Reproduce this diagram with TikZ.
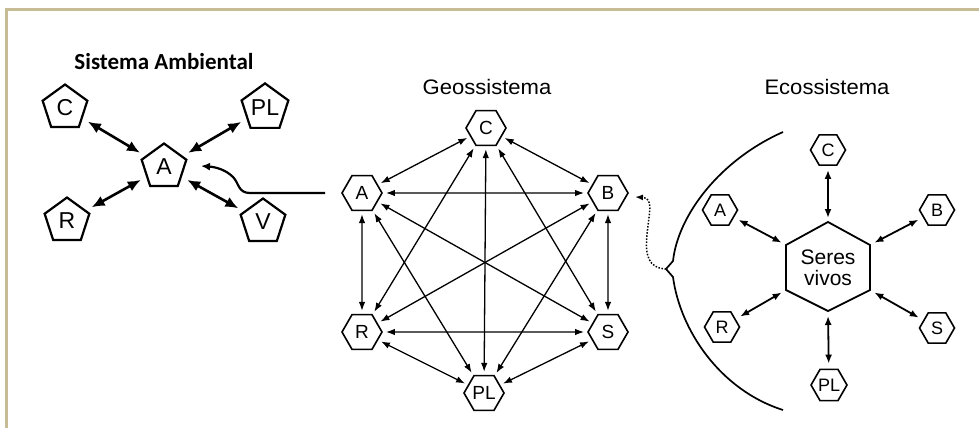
\documentclass[tikz,border=0pt]{standalone}
\usepackage{fontspec}
\setmainfont{Liberation Sans}
\newfontfamily\calib{Carlito}
\usetikzlibrary{shapes.geometric,arrows.meta}
\definecolor{framecol}{HTML}{C8BC96}
\begin{document}
\begin{tikzpicture}[x=1pt,y=-1pt,
  pent/.style={regular polygon,regular polygon sides=5,draw,line width=2.2pt,minimum size=47pt,inner sep=0pt,font=\fontsize{23}{23}\selectfont},
  hexm/.style={regular polygon,regular polygon sides=6,draw,line width=1.6pt,minimum size=40pt,inner sep=0pt,font=\fontsize{19}{19}\selectfont},
  hexr/.style={regular polygon,regular polygon sides=6,draw,line width=1.6pt,minimum size=35pt,inner sep=0pt,font=\fontsize{18}{18}\selectfont},
  bigarr/.style={{Latex[length=13pt,width=11pt]}-{Latex[length=13pt,width=11pt]},line width=2.6pt,shorten <=6pt,shorten >=6pt},
  midarr/.style={{Latex[length=9pt,width=6.5pt]}-{Latex[length=9pt,width=6.5pt]},line width=1.3pt,shorten <=3pt,shorten >=3pt},
  rarr/.style={{Latex[length=9pt,width=7pt]}-{Latex[length=9pt,width=7pt]},line width=1.8pt},
  ttl/.style={font=\fontsize{21}{21}\selectfont},
]
\useasboundingbox (0,0) rectangle (979,428);
\fill[white] (0,0) rectangle (979,428);
% frame
\draw[framecol,line width=2.2pt] (6.5,428) -- (6.5,9.5) -- (979,9.5);

% ---------- Sistema Ambiental ----------
\node[font=\calib\bfseries\fontsize{23}{23}\selectfont] (t1) at (164,62) {Sistema Ambiental};
\node[pent] (sC) at (65,108) {C};
\node[pent] (sPL) at (265,108) {PL};
\node[pent] (sA) at (164,167) {A};
\node[pent] (sR) at (67,221) {R};
\node[pent] (sV) at (263,222) {V};
\draw[bigarr] (sC) -- (sA);
\draw[bigarr] (sPL) -- (sA);
\draw[bigarr] (sR) -- (sA);
\draw[bigarr] (sA) -- (sV);

% ---------- Geossistema ----------
\node[ttl] (t2) at (487,87) {\scalebox{1.05}[1]{Geossistema}};
\node[hexm] (gC) at (486,128) {C};
\node[hexm] (gA) at (362,193) {A};
\node[hexm] (gB) at (608,193) {B};
\node[hexm] (gR) at (362,332) {R};
\node[hexm] (gS) at (608,332) {S};
\node[hexm] (gPL) at (484,393) {PL};
\foreach \a/\b in {gC/gA,gC/gB,gC/gR,gC/gS,gC/gPL,gA/gB,gA/gR,gA/gS,gA/gPL,gB/gR,gB/gS,gB/gPL,gR/gS,gR/gPL,gS/gPL}
  \draw[midarr] (\a) -- (\b);

% connector Geo A -> Sistema A
\coordinate (cs) at (325,193);
\coordinate (ce) at (201,166);
\draw[line width=2.2pt,-{Latex[length=9pt,width=8pt]}] (cs) -- (250,193) .. controls (238,193) and (239,183) .. (233,177) .. controls (226,170) and (216,167) .. (ce);

% ---------- Ecossistema ----------
\node[ttl] (t3) at (827,87) {\scalebox{1.05}[1]{Ecossistema}};
% brace arc
\coordinate (bt) at (783,132);
\coordinate (bc) at (666,269);
\coordinate (bb) at (783,410);
\coordinate (dt) at (635,197);
\draw[line width=1.7pt] (bt) .. controls (720,160) and (678,215) .. (673,261) -- (bc) -- (673,277) .. controls (680,330) and (720,390) .. (bb);
% dotted connector brace -> Geo B
\draw[line width=1.5pt,dash pattern=on 1.5pt off 1.6pt,-{Latex[length=8pt,width=6pt]}] (bc) .. controls (648,268) and (645,255) .. (647,235) .. controls (649,212) and (654,198) .. (dt);

% centre hexagon
\coordinate (svT) at (828,222);
\coordinate (svUR) at (870,245);
\coordinate (svLR) at (870,290);
\coordinate (svB) at (828,311);
\coordinate (svLL) at (786,290);
\coordinate (svUL) at (786,245);
\draw[line width=1.8pt,line join=miter] (svT) -- (svUR) -- (svLR) -- (svB) -- (svLL) -- (svUL) -- cycle;
\node[align=center,font=\fontsize{21}{21}\selectfont] (sv) at (828,268) {Seres\\vivos};

\node[hexr] (eC) at (828,150) {C};
\node[hexr] (eA) at (720,210) {A};
\node[hexr] (eB) at (937,210) {B};
\node[hexr] (eR) at (722,327) {R};
\node[hexr] (eS) at (937,328) {S};
\node[hexr] (ePL) at (829,385) {PL};
\draw[rarr,shorten <=4pt,shorten >=4pt] (eC) -- (svT);
\draw[rarr,shorten <=5pt,shorten >=5pt] (eA) -- (svUL);
\draw[rarr,shorten <=5pt,shorten >=5pt] (eB) -- (svUR);
\draw[rarr,shorten <=5pt,shorten >=5pt] (eR) -- (svLL);
\draw[rarr,shorten <=5pt,shorten >=5pt] (eS) -- (svLR);
\draw[rarr,shorten <=5pt,shorten >=5pt] (ePL) -- (svB);
\end{tikzpicture}
\end{document}
